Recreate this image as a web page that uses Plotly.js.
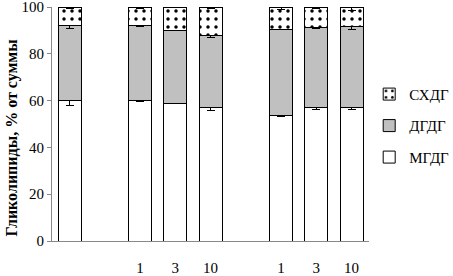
<!DOCTYPE html>
<html><head><meta charset="utf-8">
<script src="https://cdn.plot.ly/plotly-3.0.1.min.js"></script>
<style>html,body{margin:0;padding:0;background:#fff}#c{width:453px;height:276px}</style>
</head><body><div id="c"></div>
<script>
// slots (including empty gap slots)
var slots = ["ctrl", "gap1", "A1", "A3", "A10", "gap2", "B1", "B3", "B10"];
var slotLabels = ["", "", "1", "3", "10", "", "1", "3", "10"];
var categories = ["ctrl", "A1", "A3", "A10", "B1", "B3", "B10"];
var mgdg = [60.0, 60.2, 58.9, 57.2, 53.6, 57.2, 57.2];
var dgdg = [31.9, 32.1, 31.1, 30.5, 36.9, 34.2, 34.6];
var sqdg = [8.1, 7.7, 10.0, 12.3, 9.5, 8.6, 8.2];
var mgdgErr = [2.0, 0.5, 0.2, 1.3, 0.3, 1.0, 0.8];
var dgdgErr = [1.2, 0.6, 0.2, 0.8, 0.3, 0.7, 1.4];
var sqdgErr = [0.5, 0.5, 0.3, 0.5, 1.0, 0.7, 1.3];
var names = ["МГДГ", "ДГДГ", "СХДГ"];
var yTitle = "Гликолипиды, % от суммы";

var fam = "Liberation Serif";
var font = {family: fam, size: 15, color: "#000"};
var eb = function(a){return {type:"data", array:a, visible:true, color:"#000", thickness:1, width:4};};
var line = {color:"#000", width:1};
var traces = [
  {type:"bar", name:names[0], x:categories, y:mgdg, error_y:eb(mgdgErr), legendrank:3, legendgroup:"m",
   marker:{color:"#ffffff", line:line}},
  {type:"bar", name:names[1], x:categories, y:dgdg, error_y:eb(dgdgErr), legendrank:2, legendgroup:"d",
   marker:{color:"#c0c0c0", line:line}},
  {type:"bar", name:names[2], x:categories, y:sqdg, error_y:eb(sqdgErr), legendrank:1, legendgroup:"s",
   marker:{color:"#ffffff", line:line, pattern:{shape:".", fgcolor:"#000", bgcolor:"#fff", size:8, solidity:0.15}}}
];
var layout = {
  width:453, height:276, barmode:"stack", bargap:0.35,
  margin:{l:52, r:74, t:7, b:35},
  paper_bgcolor:"#fff", plot_bgcolor:"#fff",
  font:font, showlegend:true,
  legend:{xref:"container", yref:"container", x:0.815, y:0.718, xanchor:"left", yanchor:"top", traceorder:"grouped",
          font:{family:fam, size:15, color:"#000"}, itemwidth:30, tracegroupgap:9, bgcolor:"rgba(0,0,0,0)"},
  xaxis:{type:"category", categoryorder:"array", categoryarray:slots, range:[-0.5, 8.5],
         tickmode:"array", tickvals:slots, ticktext:slotLabels, showgrid:false, zeroline:false,
         showline:true, linecolor:"#888", linewidth:1, ticks:"", ticklabelstandoff:13,
         tickfont:{family:fam, size:15, color:"#000"}},
  yaxis:{range:[0,100], tickmode:"array", tickvals:[0,20,40,60,80,100], ticktext:["0","20","40","60","80","100"],
         ticklabeloverflow:"allow",
         showgrid:false, zeroline:false,
         showline:true, linecolor:"#888", linewidth:1, ticks:"outside", ticklen:4, tickcolor:"#888",
         tickfont:{family:fam, size:15, color:"#000"}},
  annotations:[{xref:"paper", yref:"paper", x:-0.125, y:0.444, xanchor:"center", yanchor:"middle",
                textangle:-90, showarrow:false, text:"<b>" + yTitle + "</b>",
                font:{family:fam, size:16, color:"#000"}}]
};
Plotly.newPlot("c", traces, layout, {displayModeBar:false, staticPlot:true});
</script></body></html>
